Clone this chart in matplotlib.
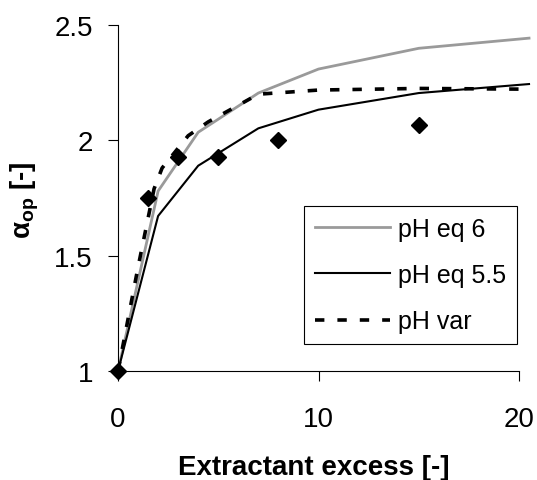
import matplotlib
matplotlib.use("Agg")
import matplotlib.pyplot as plt

plt.rcParams["font.family"] = ["Liberation Sans", "DejaVu Sans"]
plt.rcParams["mathtext.fontset"] = "custom"
plt.rcParams["mathtext.rm"] = "Liberation Sans"
plt.rcParams["mathtext.bf"] = "Liberation Sans:bold"
plt.rcParams["mathtext.it"] = "Liberation Sans:italic"

# model curves
x_eq6 = [0, 2, 4, 7, 10, 15, 20.5]
y_eq6 = [1.0, 1.78, 2.035, 2.205, 2.309, 2.399, 2.443]

x_eq55 = [0, 2, 4, 7, 10, 15, 20.5]
y_eq55 = [1.0, 1.672, 1.89, 2.052, 2.133, 2.205, 2.244]

x_var = [0, 1, 1.8, 2.2, 3.5, 4.5, 7, 10, 15, 20, 20.5]
y_var = [1.0, 1.45, 1.79, 1.88, 2.02, 2.08, 2.2, 2.218, 2.225, 2.222, 2.205]

# experimental points
x_exp = [0, 1.5, 3, 5, 8, 15]
y_exp = [1.0, 1.749, 1.929, 1.926, 2.003, 2.066]

labels = ["pH eq 6", "pH eq 5.5", "pH var"]
x_ticks = [0, 10, 20]
y_ticks = [1, 1.5, 2, 2.5]
y_tick_labels = ["1", "1.5", "2", "2.5"]

fig = plt.figure(figsize=(5.37, 4.81), dpi=100)
ax = fig.add_axes([118 / 537, 1 - 372 / 481, 1 - 118 / 537, (372 - 26) / 481])

l1, = ax.plot(x_eq6, y_eq6, color="#9a9a9a", lw=2.0, label=labels[0])
l2, = ax.plot(x_eq55, y_eq55, color="black", lw=1.5, label=labels[1])
l3, = ax.plot(x_var, y_var, color="black", lw=2.6, dashes=(2.6, 3.6), label=labels[2])
ax.plot(x_exp, y_exp, "D", color="black", markersize=8, clip_on=False, zorder=5)

ax.set_xlim(0, (537 - 118) / 20.05)
ax.set_ylim(1, 2.5)
ax.spines["top"].set_visible(False)
ax.spines["right"].set_visible(False)
ax.spines["bottom"].set_bounds(0, 20)
ax.spines["left"].set_linewidth(0.8)
ax.spines["bottom"].set_linewidth(0.8)

ax.set_xticks(x_ticks)
ax.set_yticks(y_ticks)
ax.set_yticklabels(y_tick_labels)
ax.tick_params(axis="both", direction="out", length=7, width=0.8, labelsize=20)
ax.tick_params(axis="y", pad=11)
ax.tick_params(axis="x", pad=18)

leg = ax.legend(handles=[l1, l2, l3], loc="upper left",
                bbox_to_anchor=(304 / 537, 1 - 207 / 481), bbox_transform=fig.transFigure,
                borderaxespad=0, fontsize=18, handlelength=3.0, handletextpad=0.35,
                labelspacing=0.9, borderpad=0.42, fancybox=False, framealpha=1)
leg.get_frame().set_edgecolor("black")
leg.get_frame().set_linewidth(0.8)

fig.text(314 / 537, 1 - 475 / 481, "Extractant excess [-]", fontsize=20,
         fontweight="bold", ha="center", va="baseline")
fig.text(25 / 537, 1 - 200 / 481, r"$\mathbf{α}_{\mathbf{op}}$ [-]", fontsize=20,
         fontweight="bold", rotation=90, ha="center", va="center")

fig.savefig("out.png", dpi=100)
